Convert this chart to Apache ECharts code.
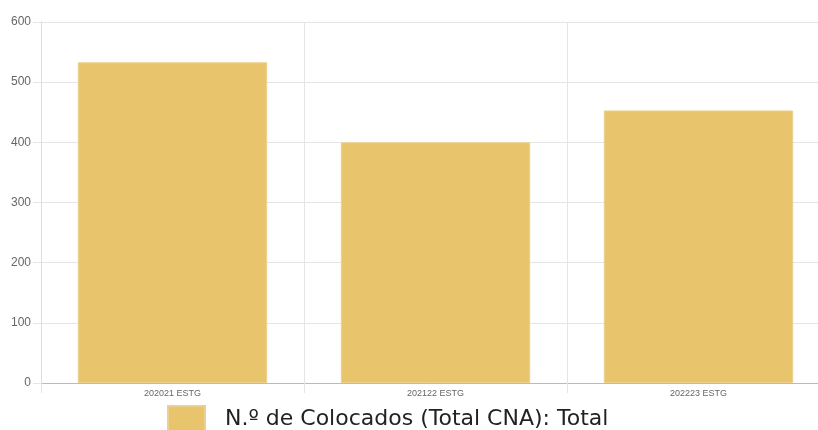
<!DOCTYPE html>
<html>
<head>
<meta charset="utf-8">
<script src="https://cdn.jsdelivr.net/npm/echarts@6/dist/echarts.min.js"></script>
<style>
  html, body { margin: 0; padding: 0; background: #fff; }
  #chart { width: 818px; height: 430px; }
</style>
</head>
<body>
<div id="chart"></div>
<script>
// anos letivos - escola
const categories = ['202021 ESTG', '202122 ESTG', '202223 ESTG'];
// N.º de colocados
const colocados = [533, 400, 453];
const seriesName = 'N.º de Colocados (Total CNA): Total';

const chart = echarts.init(document.getElementById('chart'));
chart.setOption({
  animation: false,
  // a grelha ultrapassa a margem direita (como no original)
  grid: { left: 41, width: 789, top: 22, bottom: 47, outerBoundsMode: 'none' },
  legend: {
    data: [seriesName],
    left: 167,
    top: 405,
    padding: 0,
    itemWidth: 37,
    itemHeight: 27,
    itemGap: 10,
    icon: 'rect',
    textStyle: { fontFamily: 'DejaVu Sans', fontSize: 22, color: '#222', padding: [0, 0, 0, 15] }
  },
  xAxis: {
    type: 'category',
    data: categories,
    axisLine: { lineStyle: { color: '#bbb', width: 1 } },
    axisTick: { show: true, length: 10, lineStyle: { color: '#e5e5e5' } },
    splitLine: { show: true, lineStyle: { color: '#e5e5e5' } },
    axisLabel: { color: '#666', fontSize: 9, fontFamily: 'Liberation Sans', margin: 6 }
  },
  yAxis: {
    type: 'value',
    min: 0,
    max: 600,
    interval: 100,
    axisLine: { show: true, lineStyle: { color: '#ddd' } },
    axisTick: { show: true, length: 8, lineStyle: { color: '#e5e5e5' } },
    splitLine: { lineStyle: { color: '#e5e5e5' } },
    axisLabel: { color: '#666', fontSize: 12, fontFamily: 'Liberation Sans', margin: 10 }
  },
  series: [{
    name: seriesName,
    type: 'bar',
    data: colocados,
    barCategoryGap: '28%',
    itemStyle: { color: '#E8C46C', borderColor: '#ecd08c', borderWidth: 1 }
  }]
});
</script>
</body>
</html>
